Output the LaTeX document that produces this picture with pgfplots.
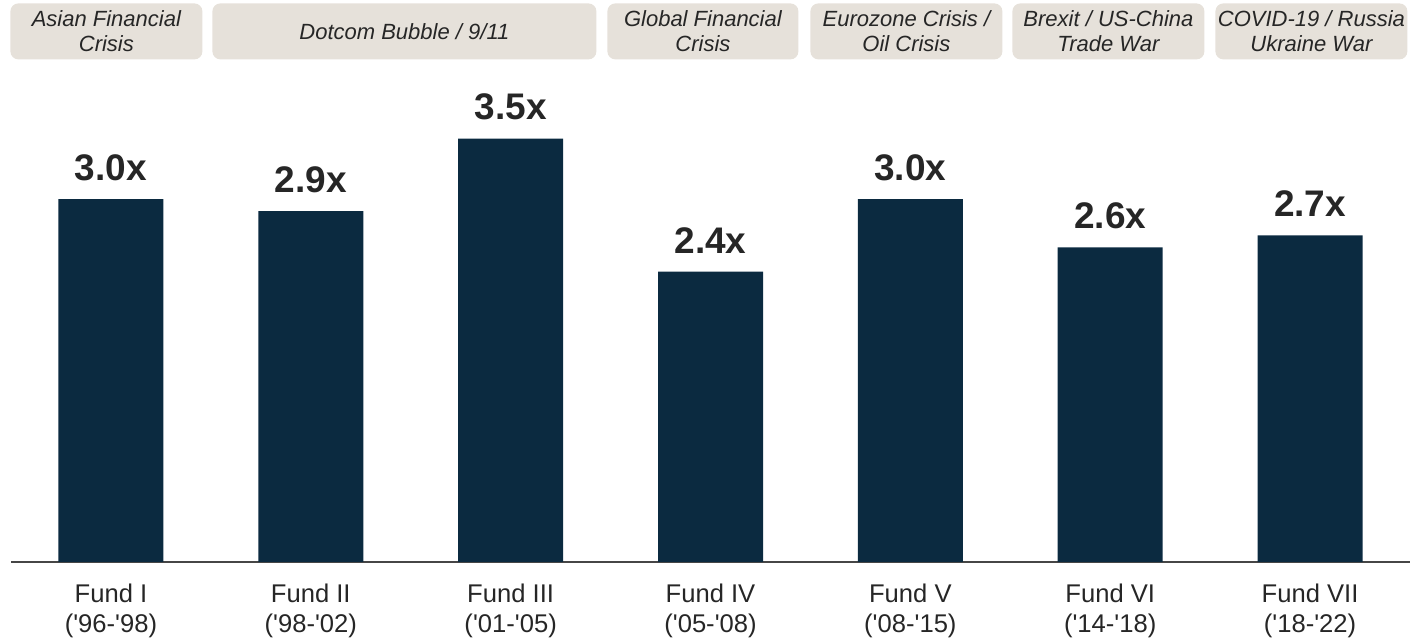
\documentclass[border=0pt]{standalone}
\usepackage{pgfplots}
\pgfplotsset{compat=1.18}
\usepackage{fontspec}
\setmainfont{Liberation Sans}
\newfontfamily\arial{Liberation Sans}
\definecolor{barblue}{RGB}{11,42,64}
\definecolor{boxfill}{RGB}{230,225,218}
\definecolor{txt}{RGB}{38,38,38}
\definecolor{axgray}{RGB}{70,70,70}
\newcommand\crisis[3]{%
  \node[fill=boxfill, rounded corners=4pt, inner sep=0pt, minimum height=28pt,
        minimum width={#2pt-#1pt}, anchor=north west, align=center, text=txt,
        font=\arial\itshape\fontsize{11}{12.5}\selectfont] at (#1pt,279.5pt) {#3};}
\begin{document}
\begin{tikzpicture}
\begin{axis}[
  scale only axis, width=699.5pt, height=281pt,
  xmin=-0.5, xmax=6.5, ymin=0, ymax=4.645,
  ybar, bar width=52.5pt, clip=false,
  axis x line*=bottom, axis y line=none,
  x axis line style={draw=axgray, line width=1pt, -},
  xtick=data, xtick style={draw=none}, ytick=\empty,
  xticklabels={{Fund I\\('96-'98)},{Fund II\\('98-'02)},{Fund III\\('01-'05)},
    {Fund IV\\('05-'08)},{Fund V\\('08-'15)},{Fund VI\\('14-'18)},{Fund VII\\('18-'22)}},
  xticklabel style={align=center, inner sep=0pt, yshift=-6.5pt, text=txt,
    font=\arial\fontsize{12.8}{15}\selectfont},
  point meta=explicit symbolic,
  nodes near coords,
  nodes near coords style={anchor=south, inner sep=0pt, yshift=9pt, text=txt,
    font=\arial\bfseries\fontsize{18.5}{21}\selectfont},
]
\addplot[fill=barblue, draw=none] coordinates {
  (0,3.0) [3.0x]
  (1,2.9) [2.9x]
  (2,3.5) [3.5x]
  (3,2.4) [2.4x]
  (4,3.0) [3.0x]
  (5,2.6) [2.6x]
  (6,2.7) [2.7x]
};
\end{axis}
\crisis{-0.5}{95.5}{Asian Financial\\Crisis}
\crisis{100.5}{292.5}{Dotcom Bubble / 9/11}
\crisis{298}{393.5}{Global Financial\\Crisis}
\crisis{399.5}{495.5}{Eurozone Crisis /\\Oil Crisis}
\crisis{500.5}{596.5}{Brexit / US-China\\Trade War}
\crisis{602}{698}{COVID-19 / Russia\\Ukraine War}
\path (-5.5pt,-39.5pt) rectangle (703pt,281pt);
\end{tikzpicture}
\end{document}
